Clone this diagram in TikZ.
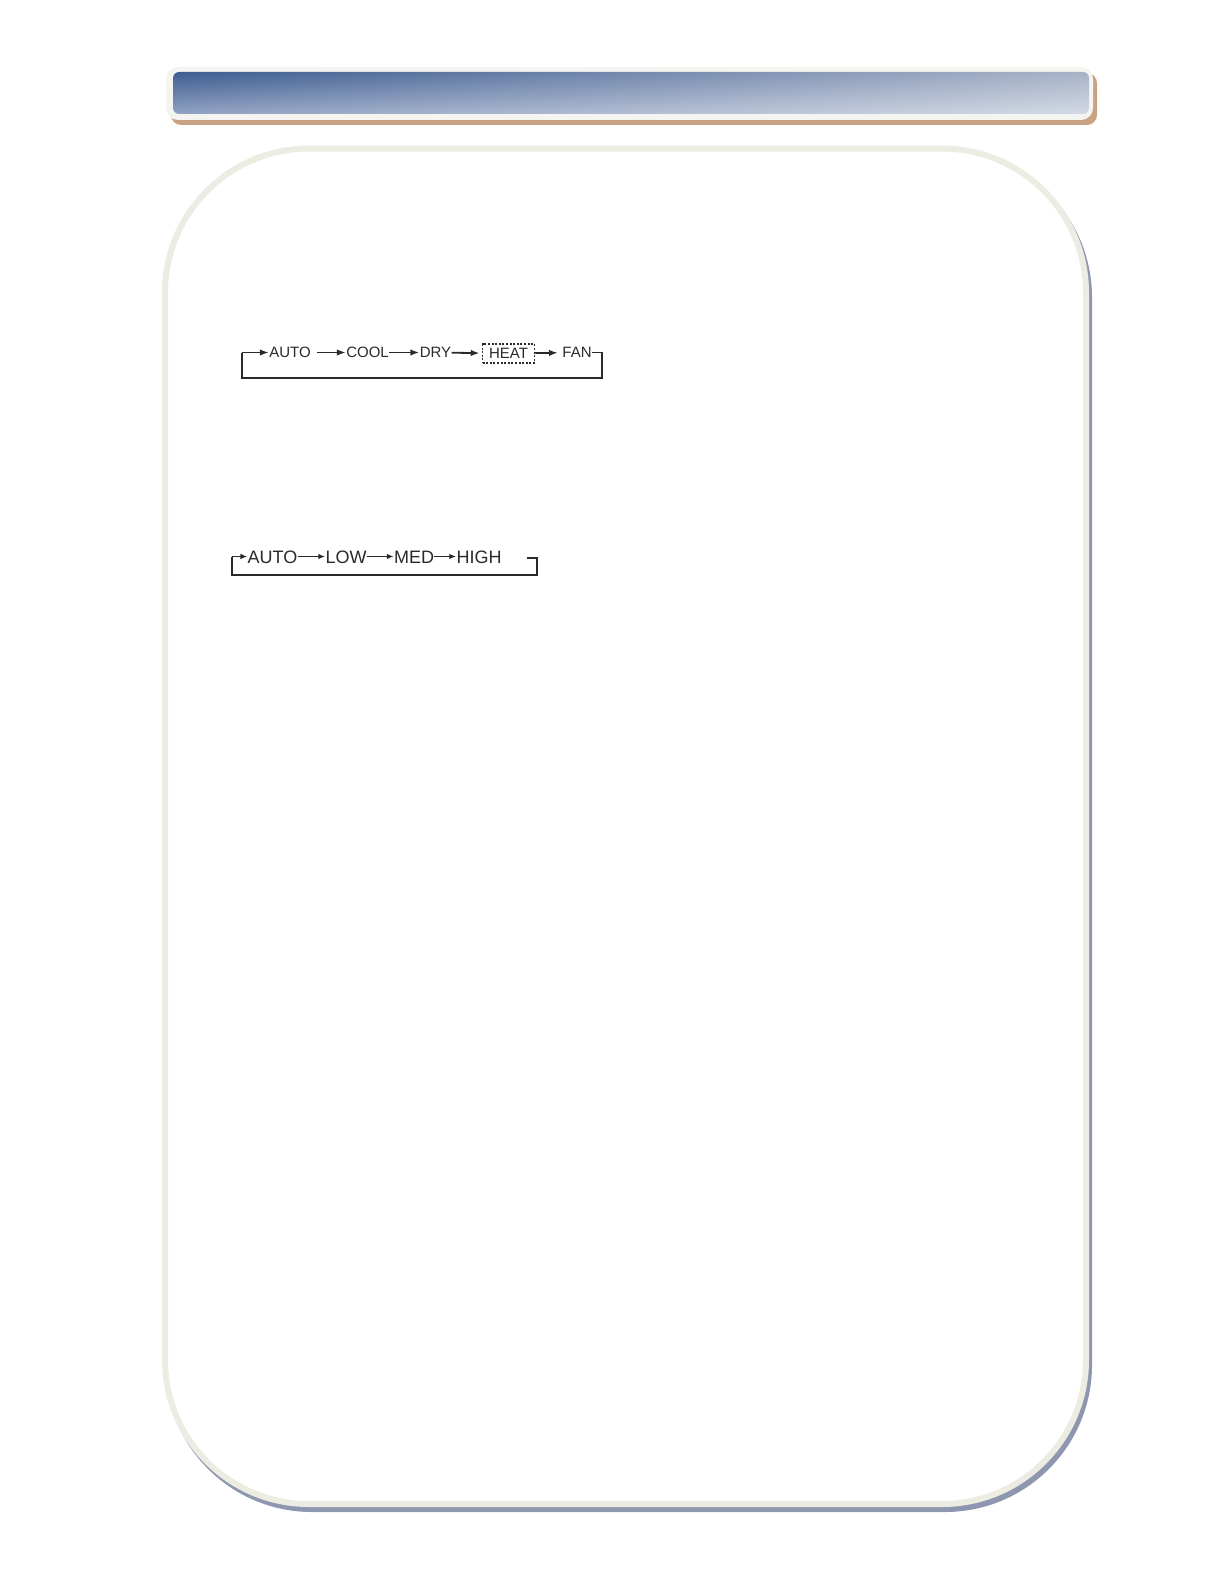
\documentclass[tikz,border=0pt]{standalone}
\usepackage{fontspec}
\setmainfont{Liberation Sans}
\usetikzlibrary{arrows.meta, shadings}
\definecolor{tanshadow}{HTML}{C8A282}
\definecolor{rimwhite}{HTML}{F4F4F1}
\definecolor{panelrim}{HTML}{ECECE2}
\definecolor{panelshadow}{HTML}{8E97AF}
\definecolor{ink}{HTML}{2A2A2A}
\definecolor{barul}{RGB}{62,94,146}
\definecolor{barur}{RGB}{168,179,200}
\definecolor{barll}{RGB}{146,163,194}
\definecolor{barlr}{RGB}{212,218,229}

\begin{document}
\begin{tikzpicture}[x=0.5pt, y=-0.5pt,
    m/.style={inner sep=0pt, text height=5.4pt, text depth=0pt, text=ink, font=\fontsize{7.5}{9}\selectfont},
    s/.style={inner sep=0pt, text height=6.5pt, text depth=0pt, text=ink, font=\fontsize{9}{11}\selectfont},
    a/.style={draw=ink, line width=0.9pt, -{Latex[length=4.5pt,width=3.2pt]}},
    b/.style={draw=ink, line width=0.8pt, -{Latex[length=3.4pt,width=2.8pt]}},
    loop/.style={draw=ink, line width=0.9pt}]
    \useasboundingbox (0,0) rectangle (1224,1584);

    % title bar
    \fill[tanshadow, rounded corners=5pt] (171,73) rectangle (1097,125);
    \fill[rimwhite, rounded corners=6pt] (166,67) rectangle (1093,120);
    \shade[rounded corners=3pt, upper left=barul, upper right=barur,
        lower left=barll, lower right=barlr] (173,72) rectangle (1089,114);

    % panel
    \draw[panelshadow, fill=panelshadow, line width=3pt, rounded corners=72pt] (168,153.5) rectangle (1089,1509);
    \draw[panelrim, fill=white, line width=3pt, rounded corners=72pt] (165,148.5) rectangle (1086,1504);

    % mode cycle
    \node[m] (auto1) at (290,352.5) {AUTO};
    \node[m] (cool1) at (367.5,352.5) {COOL};
    \node[m] (dry1) at (435.5,352.5) {DRY};
    \node[m, draw=ink, dash pattern=on 1pt off 0.8pt, line width=0.8pt, inner xsep=3.25pt, inner ysep=2pt] (heat1) at (508.5,353.5) {HEAT};
    \node[m] (fan1) at (577,352.5) {FAN};
    \coordinate (r1) at (602,350);
    \coordinate (rb1) at (602,378);
    \coordinate (lb1) at (242,378);
    \coordinate (l1) at (242,352.5);

    \draw[a, shorten <=3pt] (auto1) -- (cool1);
    \draw[a] (cool1) -- (dry1);
    \draw[a, shorten >=1pt] (dry1) -- (heat1);
    \draw[a, shorten >=2pt] (heat1) -- (fan1);
    \draw[loop] (fan1.east) -- (fan1.east -| r1) -- (rb1) -- (lb1) -- (l1);
    \draw[a] (l1) -- (auto1);

    % fan speed cycle
    \node[s] (auto2) at (272.5,556.5) {AUTO};
    \node[s] (low2) at (346,556.5) {LOW};
    \node[s] (med2) at (414,556.5) {MED};
    \node[s] (high2) at (479,556.5) {HIGH};
    \coordinate (r2) at (527,558);
    \coordinate (rc2) at (537,558);
    \coordinate (rb2) at (537,575);
    \coordinate (lb2) at (232,575);
    \coordinate (l2) at (232,556.5);

    \draw[b] (auto2) -- (low2);
    \draw[b] (low2) -- (med2);
    \draw[b] (med2) -- (high2);
    \draw[loop] (r2) -- (rc2) -- (rb2) -- (lb2) -- (l2);
    \draw[b] (l2) -- (auto2);
\end{tikzpicture}
\end{document}
